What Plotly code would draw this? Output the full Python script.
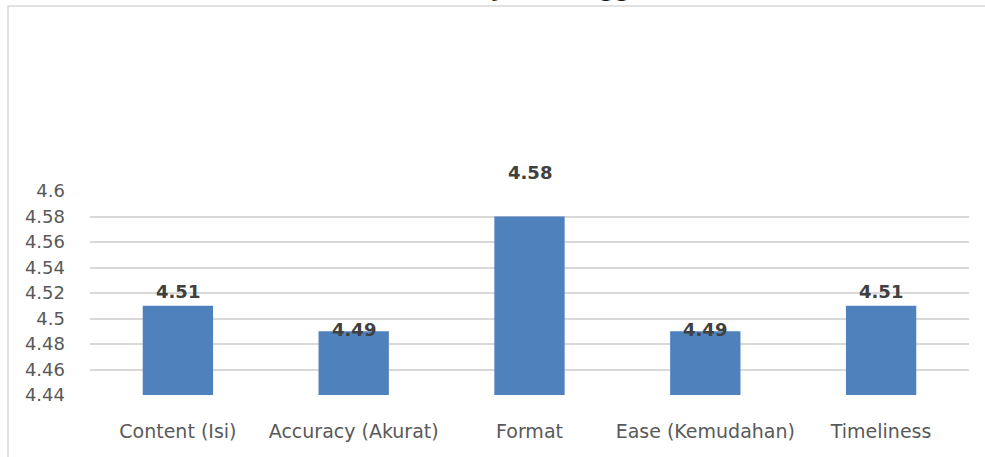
import plotly.graph_objects as go

# Rata-rata skor per dimensi
categories = ["Content (Isi)", "Accuracy (Akurat)", "Format", "Ease (Kemudahan)", "Timeliness"]
scores = [4.51, 4.49, 4.58, 4.49, 4.51]
y_ticks = [4.44, 4.46, 4.48, 4.5, 4.52, 4.54, 4.56, 4.58, 4.6]
y_tick_labels = ["4.44", "4.46", "4.48", "4.5", "4.52", "4.54", "4.56", "4.58", "4.6"]
title_text = "Persentase Kualitas Produk Jasa Pengguna"

# pixel offsets of the value labels relative to each bar top
label_shift = [14, 2, 44, 2, 14]

W, H = 985, 457
ML, MR, MT, MB = 90, 16, 191, 62
plot_w = W - ML - MR
plot_h = H - MT - MB

FONT = "DejaVu Sans, Open Sans, sans-serif"

fig = go.Figure(
    go.Bar(
        x=categories,
        y=scores,
        base=0,
        marker=dict(color="#4f81bd", line=dict(width=0)),
        hoverinfo="x+y",
    )
)

for cat, val, sh in zip(categories, scores, label_shift):
    fig.add_annotation(
        x=cat, y=val, xref="x", yref="y",
        text=f"<b>{val:.2f}</b>",
        showarrow=False, yanchor="middle", yshift=sh,
        font=dict(family=FONT, size=18, color="#404040"),
    )

# outer chart frame
px2x = lambda px: (px - ML) / plot_w
px2y = lambda py: (H - MB - py) / plot_h
fig.add_shape(
    type="rect", xref="paper", yref="paper",
    x0=px2x(8), x1=px2x(1000), y0=px2y(480), y1=px2y(6),
    line=dict(color="#d9d9d9", width=1.5), fillcolor="rgba(0,0,0,0)", layer="below",
)

# chart title, mostly above the visible frame
fig.add_annotation(
    xref="paper", yref="paper", x=px2x(410), y=px2y(-10.5),
    text=f"<b>{title_text}</b>", showarrow=False, yanchor="middle",
    font=dict(family=FONT, size=22, color="#1a1a1a"),
)

fig.update_layout(
    width=W, height=H,
    margin=dict(l=ML, r=MR, t=MT, b=MB, pad=0),
    paper_bgcolor="white", plot_bgcolor="white",
    bargap=0.6,
    showlegend=False,
    font=dict(family=FONT, color="#595959"),
)
fig.update_yaxes(
    range=[4.44, 4.6], tickvals=y_ticks, ticktext=y_tick_labels,
    showgrid=True, gridcolor="#d9d9d9", gridwidth=1.5,
    zeroline=False, showline=False, ticks="",
    tickfont=dict(size=18, color="#595959"),
    ticklabelstandoff=24,
)
fig.update_xaxes(
    showgrid=False, showline=False, ticks="", zeroline=False,
    tickfont=dict(size=19, color="#595959"),
    ticklabelstandoff=23,
)

fig.write_html("out.html")
